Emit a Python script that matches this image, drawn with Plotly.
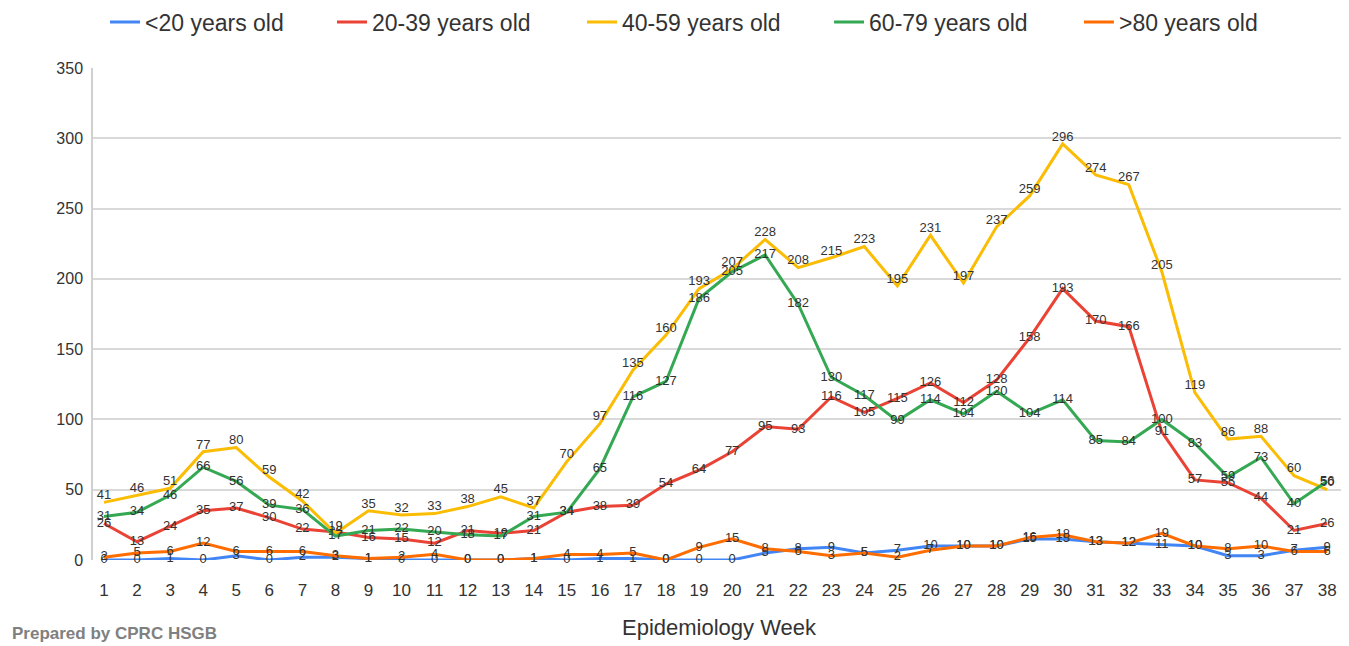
import plotly.graph_objects as go

weeks = list(range(1, 39))
series_names = ["<20 years old", "20-39 years old", "40-59 years old", "60-79 years old", ">80 years old"]
under20 = [0, 0, 1, 0, 3, 0, 2, 2, 1, 0, 0, 0, 0, 1, 0, 1, 1, 0, 0, 0,
           5, 8, 9, 5, 7, 10, 10, 10, 15, 15, 13, 12, 11, 10, 3, 3, 7, 9]
age20_39 = [26, 13, 24, 35, 37, 30, 22, 20, 16, 15, 12, 21, 19, 21, 34, 38, 39, 54, 64, 77,
            95, 93, 116, 105, 115, 126, 112, 128, 158, 193, 170, 166, 91, 57, 55, 44, 21, 26]
age40_59 = [41, 46, 51, 77, 80, 59, 42, 19, 35, 32, 33, 38, 45, 37, 70, 97, 135, 160, 193, 207,
            228, 208, 215, 223, 195, 231, 197, 237, 259, 296, 274, 267, 205, 119, 86, 88, 60, 50]
age60_79 = [31, 34, 46, 66, 56, 39, 36, 17, 21, 22, 20, 18, 17, 31, 34, 65, 116, 127, 186, 205,
            217, 182, 130, 117, 99, 114, 104, 120, 104, 114, 85, 84, 100, 83, 59, 73, 40, 56]
over80 = [2, 5, 6, 12, 6, 6, 6, 3, 1, 2, 4, 0, 0, 1, 4, 4, 5, 0, 9, 15,
          8, 6, 3, 5, 2, 7, 10, 10, 16, 18, 13, 12, 19, 10, 8, 10, 6, 6]
y_ticks = [0, 50, 100, 150, 200, 250, 300, 350]

colors = ["#4285F4", "#EA4335", "#FBBC04", "#34A853", "#FF6D01"]
positions = ["middle center", "middle center", "top center", "middle center", "middle center"]
data = [under20, age20_39, age40_59, age60_79, over80]
legend_ids = ["legend", "legend2", "legend3", "legend4", "legend5"]
legend_x = [0.0096, 0.1909, 0.3906, 0.5879, 0.7875]

FONT = "Liberation Sans, Arial, sans-serif"

fig = go.Figure()
for name, vals, col, pos, lid in zip(series_names, data, colors, positions, legend_ids):
    fig.add_trace(go.Scatter(
        x=weeks, y=vals, name=name, mode="lines+text",
        line=dict(color=col, width=3),
        text=[str(v) for v in vals], textposition=pos,
        textfont=dict(size=13, color="#333333", family=FONT),
        cliponaxis=False, legend=lid,
    ))

layout_legends = {}
for lid, lx in zip(legend_ids, legend_x):
    layout_legends[lid] = dict(
        x=lx, xanchor="left", y=1.0935, yanchor="middle",
        orientation="h", bgcolor="rgba(0,0,0,0)",
        font=dict(size=23, color="#333333", family=FONT),
        itemwidth=30,
    )

fig.update_layout(
    width=1341, height=638,
    paper_bgcolor="white", plot_bgcolor="white",
    margin=dict(l=85, r=4, t=60, b=86, autoexpand=False),
    showlegend=True,
    font=dict(family=FONT, color="#333333"),
    **layout_legends,
)
fig.update_xaxes(
    range=[0.667, 38.54], tickmode="array", tickvals=weeks,
    ticktext=[str(w) for w in weeks], tickfont=dict(size=17, color="#333333"),
    showgrid=False, zeroline=False, showline=False, ticks="", ticklabelstandoff=18,
    automargin=False,
    title=dict(text="Epidemiology Week", font=dict(size=22, color="#333333"), standoff=20),
)
fig.update_yaxes(
    range=[0, 350], tickmode="array", tickvals=y_ticks,
    tickfont=dict(size=16, color="#333333"),
    showgrid=True, gridcolor="#d9d9d9", gridwidth=1.5, zeroline=False,
    showline=True, linecolor="#d0d0d0", linewidth=1.5, ticks="", ticklabelstandoff=5,
    automargin=False,
)
fig.add_annotation(
    text="<b>Prepared by CPRC HSGB</b>", xref="paper", yref="paper",
    x=-0.0663, y=-0.1504, xanchor="left", yanchor="middle", showarrow=False,
    font=dict(size=17, color="#808080"),
)
fig.write_html("out.html")
